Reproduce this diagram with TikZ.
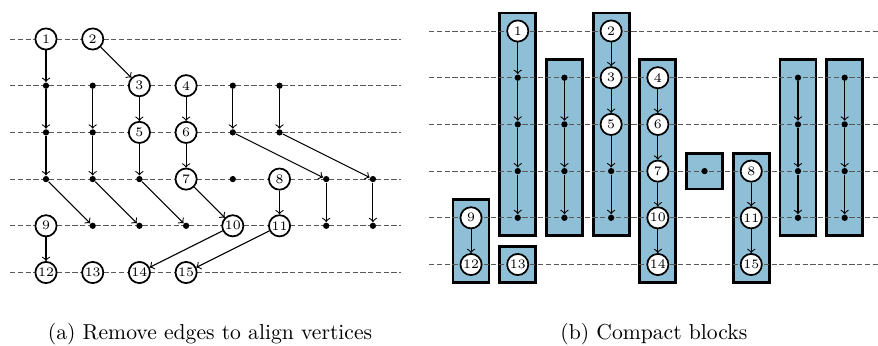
\documentclass[tikz,border=0pt]{standalone}
\usepackage{tikz}
\definecolor{blockfill}{RGB}{143,191,214}

\begin{document}
\begin{tikzpicture}[x=21.6pt,y=-21.6pt,->,>=to,line width=0.5pt,
    vertex/.style={circle,draw=black,thick,fill=white,minimum size=9.8pt,inner sep=0pt,font=\fontsize{6}{6}\selectfont},
    dummy/.style={circle,fill=black,minimum size=2.9pt,inner sep=0pt},
    layer/.style={-,draw=black!65,line width=0.45pt,dash pattern=on 2.4pt off 1.2pt},
    block/.style={-,draw=black,line width=1.3pt,fill=blockfill}]
    \useasboundingbox (0,0) rectangle (18.8,7.388);

    % (a) remove edges
    \begin{scope}[shift={(0.985,0.835)}]
    \draw[layer] (-0.77,0) -- (7.6,0);
    \draw[layer] (-0.77,1) -- (7.6,1);
    \draw[layer] (-0.77,2) -- (7.6,2);
    \draw[layer] (-0.77,3) -- (7.6,3);
    \draw[layer] (-0.77,4) -- (7.6,4);
    \draw[layer] (-0.77,5) -- (7.6,5);
    \node[vertex] (a1)   at (0,0) {1};
    \node[vertex] (a2)   at (1,0) {2};
    \node[dummy]  (ad01) at (0,1) {};
    \node[dummy]  (ad11) at (1,1) {};
    \node[vertex] (a3)   at (2,1) {3};
    \node[vertex] (a4)   at (3,1) {4};
    \node[dummy]  (ad41) at (4,1) {};
    \node[dummy]  (ad51) at (5,1) {};
    \node[dummy]  (ad02) at (0,2) {};
    \node[dummy]  (ad12) at (1,2) {};
    \node[vertex] (a5)   at (2,2) {5};
    \node[vertex] (a6)   at (3,2) {6};
    \node[dummy]  (ad42) at (4,2) {};
    \node[dummy]  (ad52) at (5,2) {};
    \node[dummy]  (ad03) at (0,3) {};
    \node[dummy]  (ad13) at (1,3) {};
    \node[dummy]  (ad23) at (2,3) {};
    \node[vertex] (a7)   at (3,3) {7};
    \node[dummy]  (ad43) at (4,3) {};
    \node[vertex] (a8)   at (5,3) {8};
    \node[dummy]  (ad63) at (6,3) {};
    \node[dummy]  (ad73) at (7,3) {};
    \node[vertex] (a9)   at (0,4) {9};
    \node[dummy]  (ad14) at (1,4) {};
    \node[dummy]  (ad24) at (2,4) {};
    \node[dummy]  (ad34) at (3,4) {};
    \node[vertex] (a10)  at (4,4) {10};
    \node[vertex] (a11)  at (5,4) {11};
    \node[dummy]  (ad64) at (6,4) {};
    \node[dummy]  (ad74) at (7,4) {};
    \node[vertex] (a12)  at (0,5) {12};
    \node[vertex] (a13)  at (1,5) {13};
    \node[vertex] (a14)  at (2,5) {14};
    \node[vertex] (a15)  at (3,5) {15};
    \draw (a1) -- (ad01);
    \draw (a2) -- (a3);
    \draw (ad01) -- (ad02);
    \draw (ad11) -- (ad12);
    \draw (a3) -- (a5);
    \draw (a4) -- (a6);
    \draw (ad41) -- (ad42);
    \draw (ad51) -- (ad52);
    \draw (ad02) -- (ad03);
    \draw (ad12) -- (ad13);
    \draw (a5) -- (ad23);
    \draw (a6) -- (a7);
    \draw (ad42) -- (ad63);
    \draw (ad52) -- (ad73);
    \draw (ad03) -- (ad14);
    \draw (ad13) -- (ad24);
    \draw (ad23) -- (ad34);
    \draw (a7) -- (a10);
    \draw (a8) -- (a11);
    \draw (ad63) -- (ad64);
    \draw (ad73) -- (ad74);
    \draw (a9) -- (a12);
    \draw (a10) -- (a14);
    \draw (a11) -- (a15);
    \end{scope}

    % (b) compact blocks
    \begin{scope}[shift={(10.086,0.664)}]
    \draw[block] (-0.385,3.615) rectangle (0.385,5.385);
    \draw[block] (0.615,-0.385) rectangle (1.385,4.385);
    \draw[block] (0.615,4.615) rectangle (1.385,5.385);
    \draw[block] (1.615,0.615) rectangle (2.385,4.385);
    \draw[block] (2.615,-0.385) rectangle (3.385,4.385);
    \draw[block] (3.615,0.615) rectangle (4.385,5.385);
    \draw[block] (4.615,2.615) rectangle (5.385,3.385);
    \draw[block] (5.615,2.615) rectangle (6.385,5.385);
    \draw[block] (6.615,0.615) rectangle (7.385,4.385);
    \draw[block] (7.615,0.615) rectangle (8.385,4.385);
    \draw[layer] (-0.9,0) -- (8.72,0);
    \draw[layer] (-0.9,1) -- (8.72,1);
    \draw[layer] (-0.9,2) -- (8.72,2);
    \draw[layer] (-0.9,3) -- (8.72,3);
    \draw[layer] (-0.9,4) -- (8.72,4);
    \draw[layer] (-0.9,5) -- (8.72,5);
    \node[vertex] (b9)   at (0,4) {9};
    \node[vertex] (b12)  at (0,5) {12};
    \node[vertex] (b1)   at (1,0) {1};
    \node[dummy]  (bd11) at (1,1) {};
    \node[dummy]  (bd12) at (1,2) {};
    \node[dummy]  (bd13) at (1,3) {};
    \node[dummy]  (bd14) at (1,4) {};
    \node[vertex] (b13)  at (1,5) {13};
    \node[dummy]  (bd21) at (2,1) {};
    \node[dummy]  (bd22) at (2,2) {};
    \node[dummy]  (bd23) at (2,3) {};
    \node[dummy]  (bd24) at (2,4) {};
    \node[vertex] (b2)   at (3,0) {2};
    \node[vertex] (b3)   at (3,1) {3};
    \node[vertex] (b5)   at (3,2) {5};
    \node[dummy]  (bd33) at (3,3) {};
    \node[dummy]  (bd34) at (3,4) {};
    \node[vertex] (b4)   at (4,1) {4};
    \node[vertex] (b6)   at (4,2) {6};
    \node[vertex] (b7)   at (4,3) {7};
    \node[vertex] (b10)  at (4,4) {10};
    \node[vertex] (b14)  at (4,5) {14};
    \node[dummy]  (bd53) at (5,3) {};
    \node[vertex] (b8)   at (6,3) {8};
    \node[vertex] (b11)  at (6,4) {11};
    \node[vertex] (b15)  at (6,5) {15};
    \node[dummy]  (bd71) at (7,1) {};
    \node[dummy]  (bd72) at (7,2) {};
    \node[dummy]  (bd73) at (7,3) {};
    \node[dummy]  (bd74) at (7,4) {};
    \node[dummy]  (bd81) at (8,1) {};
    \node[dummy]  (bd82) at (8,2) {};
    \node[dummy]  (bd83) at (8,3) {};
    \node[dummy]  (bd84) at (8,4) {};
    \draw (b9) -- (b12);
    \draw (b1) -- (bd11);
    \draw (bd11) -- (bd12);
    \draw (bd12) -- (bd13);
    \draw (bd13) -- (bd14);
    \draw (bd21) -- (bd22);
    \draw (bd22) -- (bd23);
    \draw (bd23) -- (bd24);
    \draw (b2) -- (b3);
    \draw (b3) -- (b5);
    \draw (b5) -- (bd33);
    \draw (bd33) -- (bd34);
    \draw (b4) -- (b6);
    \draw (b6) -- (b7);
    \draw (b7) -- (b10);
    \draw (b10) -- (b14);
    \draw (b8) -- (b11);
    \draw (b11) -- (b15);
    \draw (bd71) -- (bd72);
    \draw (bd72) -- (bd73);
    \draw (bd73) -- (bd74);
    \draw (bd81) -- (bd82);
    \draw (bd82) -- (bd83);
    \draw (bd83) -- (bd84);
    \end{scope}

    \node[anchor=base] (capa) at (4.497,7.26) {(a) Remove edges to align vertices};
    \node[anchor=base] (capb) at (14.0,7.26) {(b) Compact blocks};
\end{tikzpicture}
\end{document}
